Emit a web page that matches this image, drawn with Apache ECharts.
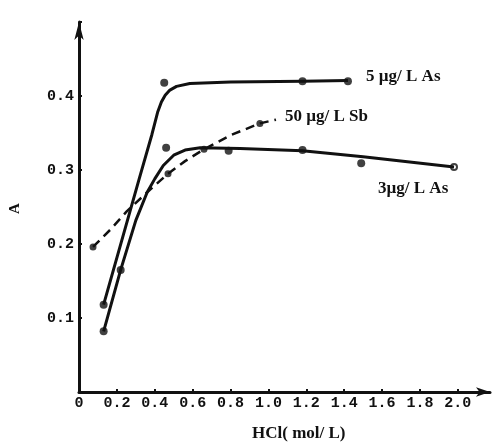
<!DOCTYPE html>
<html><head><meta charset="utf-8">
<script src="https://cdn.jsdelivr.net/npm/echarts@6/dist/echarts.min.js"></script>
<style>html,body{margin:0;padding:0;background:#fff}#c{width:501px;height:443px}</style>
</head><body><div id="c"></div>
<script>
// Measured points [HCl mol/L, A]
const as5Points = [[0.13,0.118],[0.45,0.418],[1.18,0.420],[1.42,0.420]];
const as3Points = [[0.13,0.082],[0.22,0.165],[0.46,0.330],[0.79,0.326],[1.18,0.327],[1.49,0.309]];
const as3OpenPoints = [[1.98,0.304]];
const sb50Points = [[0.074,0.196],[0.47,0.295],[0.66,0.328],[0.955,0.363]];
// Fitted curves as drawn (knots)
const as5Curve = [[0.13,0.118],[0.32,0.290],[0.385,0.348],[0.415,0.378],[0.435,0.392],[0.455,0.401],[0.48,0.408],[0.515,0.413],[0.585,0.417],[0.80,0.419],[1.18,0.420],[1.42,0.421]];
const as3Curve = [[0.13,0.082],[0.22,0.165],[0.30,0.232],[0.36,0.270],[0.40,0.288],[0.445,0.306],[0.50,0.320],[0.56,0.327],[0.64,0.330],[0.85,0.329],[1.18,0.326],[1.50,0.318],[1.98,0.304]];
const sb50Curve = [[0.074,0.196],[0.164,0.219],[0.252,0.244],[0.36,0.270],[0.47,0.295],[0.56,0.312],[0.66,0.328],[0.80,0.347],[0.955,0.363],[1.04,0.368]];
const xTicks = ['0','0.2','0.4','0.6','0.8','1.0','1.2','1.4','1.6','1.8','2.0'];
const yTicks = ['0.1','0.2','0.3','0.4'];
const seriesNames = ['5 µg/ L As','50 µg/ L Sb','3µg/ L As'];
const xName = 'HCl( mol/ L)';
const yName = 'A';

const chart = echarts.init(document.getElementById('c'));
const lab = {fontFamily:'Liberation Mono',fontWeight:'bold',fontSize:15,color:'#111'};
const serifBold = {fontFamily:'Liberation Serif',fontWeight:'bold',fontSize:17,fill:'#111'};
chart.setOption({
  animation:false,
  grid:{left:79,right:11,top:22,bottom:51},
  xAxis:{type:'value',min:0,max:2.17,interval:0.2,
    axisLine:{lineStyle:{color:'#111',width:3},symbol:['none','arrow'],symbolSize:[7,14]},
    axisTick:{inside:true,length:3,lineStyle:{color:'#111',width:2}},
    splitLine:{show:false},
    axisLabel:{...lab,margin:4,showMaxLabel:false,formatter:(v)=>{const i=Math.round(v/0.2);return (Math.abs(v-i*0.2)<1e-6&&i<xTicks.length)?xTicks[i]:'';}}
  },
  yAxis:{type:'value',min:0,max:0.5,interval:0.1,
    axisLine:{lineStyle:{color:'#111',width:3},symbol:['none','arrow'],symbolSize:[7,18]},
    axisTick:{inside:true,length:3,lineStyle:{color:'#111',width:2}},
    splitLine:{show:false},
    axisLabel:{...lab,margin:5,formatter:(v)=>{const i=Math.round(v/0.1);return (i>=1&&i<=yTicks.length)?yTicks[i-1]:'';}}
  },
  graphic:[
    {type:'text',left:252,top:425,style:{text:xName,...serifBold}},
    {type:'text',x:8,y:214,rotation:Math.PI/2,style:{text:yName,...serifBold,fontSize:15}},
    {type:'text',left:366,top:68,style:{text:seriesNames[0],...serifBold}},
    {type:'text',left:285,top:108,style:{text:seriesNames[1],...serifBold}},
    {type:'text',left:378,top:180,style:{text:seriesNames[2],...serifBold}}
  ],
  series:[
    {type:'line',data:as5Curve,smooth:false,showSymbol:false,lineStyle:{color:'#111',width:3,join:'round'}},
    {type:'line',data:as3Curve,smooth:false,showSymbol:false,lineStyle:{color:'#111',width:3,join:'round'}},
    {type:'line',data:sb50Curve,smooth:false,showSymbol:false,lineStyle:{color:'#111',width:2.5,type:[9,6]}},
    {type:'scatter',name:seriesNames[0],data:as5Points,symbolSize:8,itemStyle:{color:'#111'}},
    {type:'scatter',name:seriesNames[2],data:as3Points,symbolSize:8,itemStyle:{color:'#111'}},
    {type:'scatter',data:as3OpenPoints,symbolSize:6,itemStyle:{color:'#fff',borderColor:'#111',borderWidth:2}},
    {type:'scatter',name:seriesNames[1],data:sb50Points,symbolSize:7,itemStyle:{color:'#111'}}
  ]
});
</script></body></html>
